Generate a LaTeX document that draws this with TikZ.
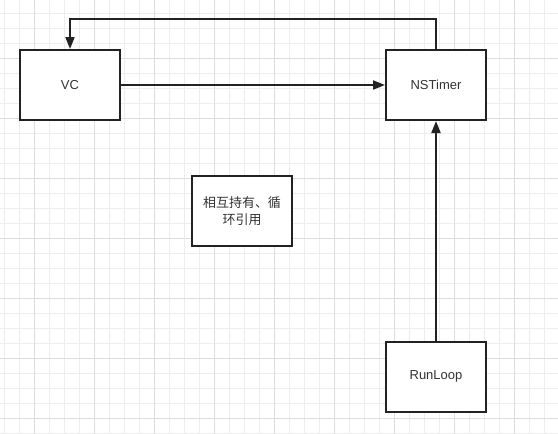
\documentclass[tikz,border=0pt]{standalone}
\usepackage{fontspec}
\setmainfont{Liberation Sans}
\newfontfamily\cjk{Noto Sans CJK SC}
\usepackage{xcolor}
\usetikzlibrary{arrows.meta, positioning}

\definecolor{gridminor}{HTML}{EDEDED}
\definecolor{gridmajor}{HTML}{DDDDDD}
\definecolor{boxline}{HTML}{222222}
\definecolor{boxtext}{HTML}{333333}

\tikzset{
  box/.style={draw=boxline, line width=2pt, fill=white, minimum width=100pt,
    minimum height=70pt, inner sep=0pt, text=boxtext, align=center,
    font=\fontsize{13pt}{17pt}\selectfont},
  link/.style={draw=boxline, line width=2pt, -{Triangle[length=12pt,width=9pt]}}
}

\begin{document}
\begin{tikzpicture}[x=1pt, y=-1pt]
\useasboundingbox (0,0) rectangle (558,434);
\fill[white] (0,0) rectangle (558,434);

% background grid
\foreach \i in {0,...,36} {
    \draw[gridminor, line width=0.7pt] (4.3+15*\i,0) -- (4.3+15*\i,434);
}
\foreach \i in {0,...,28} {
    \draw[gridminor, line width=0.7pt] (0,13.3+15*\i) -- (558,13.3+15*\i);
}
\foreach \i in {0,...,8} {
    \draw[gridmajor, line width=0.7pt] (34.3+60*\i,0) -- (34.3+60*\i,434);
}
\foreach \i in {0,...,6} {
    \draw[gridmajor, line width=0.7pt] (0,58.3+60*\i) -- (558,58.3+60*\i);
}

% boxes
\node[box] (vc) at (70,85) {VC};
\node[box] (nstimer) at (436,85) {NSTimer};
\node[box] (runloop) at (436,376.5) {RunLoop};
\node[box] (cycle) at (242,211) {\cjk 相互持有、循\\\cjk 环引用};

% references
\draw[link] (nstimer.north) -- ++(0,-30) -| (vc.north);
\draw[link] (vc.east) -- (nstimer.west);
\draw[link] (runloop.north) -- (nstimer.south);
\end{tikzpicture}
\end{document}
